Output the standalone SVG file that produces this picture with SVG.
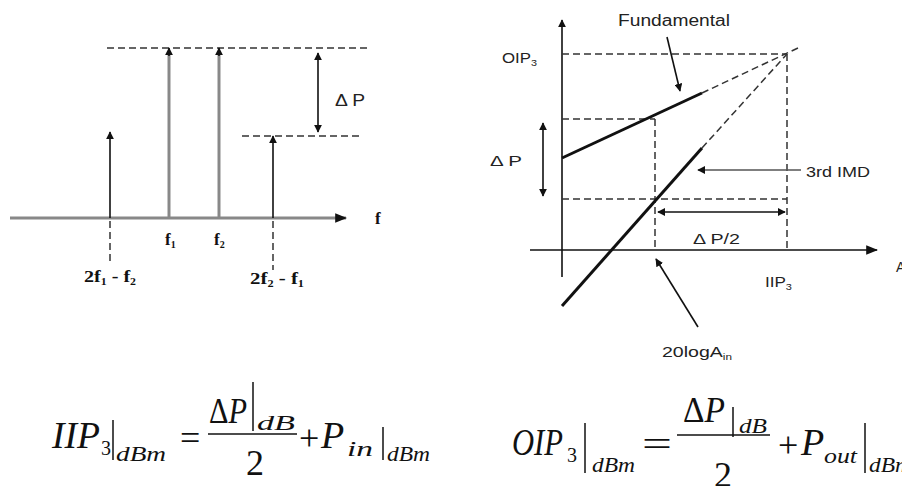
<svg xmlns="http://www.w3.org/2000/svg" width="902" height="486" viewBox="0 0 902 486">
<style>
.sans{font-family:"Liberation Sans",Arial,sans-serif;fill:#222}
.lbl{font-family:"Liberation Serif","Times New Roman",serif;font-weight:bold;font-size:17px;fill:#111}
.eq{font-family:"Liberation Serif","Times New Roman",serif;font-style:italic;fill:#111}
.eqn{font-family:"Liberation Serif","Times New Roman",serif;fill:#111}
.dash{stroke:#333;stroke-width:1.5;stroke-dasharray:7,4;fill:none}
.thin{stroke:#111;stroke-width:1.6;fill:none}
.thick{stroke:#111;stroke-width:3;fill:none}
.gray{stroke:#888;stroke-width:3;fill:none}
.bar{stroke:#111;stroke-width:1.5}
</style>
<defs>
<marker id="ah" viewBox="0 0 10 10" refX="9" refY="5" markerWidth="8" markerHeight="8" markerUnits="userSpaceOnUse" orient="auto-start-reverse">
<path d="M0,0 L10,5 L0,10 z" fill="#111"/>
</marker>
<marker id="ahb" viewBox="0 0 10 10" refX="9" refY="5" markerWidth="12" markerHeight="12" markerUnits="userSpaceOnUse" orient="auto-start-reverse">
<path d="M0,1 L10,5 L0,9 z" fill="#111"/>
</marker>
</defs>

<!-- LEFT SPECTRUM -->
<g id="spectrum-axis">
<line x1="10" y1="218" x2="346" y2="218" class="gray" marker-end="url(#ahb)"/>
<text x="375" y="224" class="lbl">f</text>
</g>
<g id="connectors-left">
<line x1="107" y1="48" x2="367" y2="48" class="dash"/>
<line x1="242" y1="136" x2="362" y2="136" class="dash"/>
<line x1="110" y1="221" x2="110" y2="265" class="dash"/>
<line x1="273" y1="221" x2="273" y2="270" class="dash"/>
<line x1="318" y1="53" x2="318" y2="132" class="thin" marker-start="url(#ah)" marker-end="url(#ah)"/>
</g>
<g id="tone-f1">
<line x1="169" y1="218" x2="169" y2="52" class="gray"/>
<line x1="169" y1="56" x2="169" y2="48" class="thin" marker-end="url(#ah)"/>
<text x="165" y="245" class="lbl">f<tspan font-size="10" dy="3">1</tspan></text>
</g>
<g id="tone-f2">
<line x1="219" y1="218" x2="219" y2="52" class="gray"/>
<line x1="219" y1="56" x2="219" y2="48" class="thin" marker-end="url(#ah)"/>
<text x="214" y="245" class="lbl">f<tspan font-size="10" dy="3">2</tspan></text>
</g>
<g id="imd-low">
<line x1="110" y1="218" x2="110" y2="132" class="thin" marker-end="url(#ah)"/>
<text x="84" y="282" class="lbl" font-size="18" textLength="52" lengthAdjust="spacingAndGlyphs">2f<tspan font-size="10" dy="3">1</tspan><tspan dy="-3"> - f</tspan><tspan font-size="10" dy="3">2</tspan></text>
</g>
<g id="imd-high">
<line x1="273" y1="218" x2="273" y2="136" class="thin" marker-end="url(#ah)"/>
<text x="250" y="284" class="lbl" font-size="18" textLength="54" lengthAdjust="spacingAndGlyphs">2f<tspan font-size="10" dy="3">2</tspan><tspan dy="-3"> - f</tspan><tspan font-size="10" dy="3">1</tspan></text>
</g>
<g id="label-dp-left">
<text x="335" y="106" class="sans" font-size="16" textLength="30" lengthAdjust="spacingAndGlyphs">Δ P</text>
</g>

<!-- RIGHT IP3 PLOT -->
<g id="ip3-axes">
<line x1="562" y1="277" x2="562" y2="20" class="thin" marker-end="url(#ah)"/>
<line x1="530" y1="250" x2="877" y2="250" class="thin" marker-end="url(#ahb)"/>
<text x="502" y="63" class="sans" font-size="14" textLength="35" lengthAdjust="spacingAndGlyphs">OIP<tspan font-size="9" dy="3">3</tspan></text>
<text x="765" y="287" class="sans" font-size="14" textLength="27" lengthAdjust="spacingAndGlyphs">IIP<tspan font-size="9" dy="3">3</tspan></text>
<text x="896" y="272" class="sans" font-size="14">A</text>
</g>
<g id="connectors-right">
<line x1="562" y1="54" x2="787" y2="54" class="dash"/>
<line x1="787" y1="54" x2="787" y2="250" class="dash"/>
<line x1="562" y1="119" x2="655" y2="119" class="dash"/>
<line x1="655" y1="119" x2="655" y2="250" class="dash"/>
<line x1="562" y1="199" x2="787" y2="199" class="dash"/>
<line x1="543" y1="123" x2="543" y2="196" class="thin" marker-start="url(#ah)" marker-end="url(#ah)"/>
<line x1="658" y1="212" x2="785" y2="212" class="thin" marker-start="url(#ah)" marker-end="url(#ah)"/>
<line x1="801" y1="170" x2="698" y2="170" stroke="#555" stroke-width="1.6" marker-end="url(#ah)"/>
<line x1="667" y1="37" x2="680" y2="91" class="thin" marker-end="url(#ah)"/>
<line x1="698" y1="327" x2="656" y2="259" class="thin" marker-end="url(#ah)"/>
</g>
<g id="fundamental-line">
<line x1="562" y1="158" x2="702" y2="93" class="thick"/>
<line x1="702" y1="93" x2="798" y2="48" class="dash" stroke-width="1.8"/>
<text x="618" y="26" class="sans" font-size="16" textLength="112" lengthAdjust="spacingAndGlyphs">Fundamental</text>
</g>
<g id="imd-line">
<line x1="562" y1="306" x2="702" y2="148" class="thick"/>
<line x1="702" y1="148" x2="787" y2="54" class="dash" stroke-width="1.8"/>
<text x="806" y="177" class="sans" font-size="15" textLength="64" lengthAdjust="spacingAndGlyphs">3rd IMD</text>
</g>
<g id="labels-right">
<text x="490" y="166" class="sans" font-size="15" textLength="32" lengthAdjust="spacingAndGlyphs">Δ P</text>
<text x="693" y="244" class="sans" font-size="15" textLength="47" lengthAdjust="spacingAndGlyphs">Δ P/2</text>
<text x="662" y="357" class="sans" font-size="15" textLength="70" lengthAdjust="spacingAndGlyphs">20logA<tspan font-size="9" dy="3">in</tspan></text>
</g>

<!-- FORMULAS -->
<g id="formula-iip3">
<text x="52" y="448" class="eq" font-size="38" textLength="48" lengthAdjust="spacingAndGlyphs">IIP</text>
<text x="101" y="455" class="eqn" font-size="20">3</text>
<line x1="113" y1="420" x2="113" y2="460" class="bar"/>
<text x="116" y="461" class="eq" font-size="22" textLength="50" lengthAdjust="spacingAndGlyphs">dBm</text>
<text x="180" y="450" class="eqn" font-size="36">=</text>
<text x="209" y="423" class="eqn" font-size="36" textLength="38" lengthAdjust="spacingAndGlyphs">Δ<tspan class="eq">P</tspan></text>
<line x1="253" y1="382" x2="253" y2="431" class="bar"/>
<text x="257" y="430" class="eq" font-size="22" textLength="38" lengthAdjust="spacingAndGlyphs">dB</text>
<line x1="208" y1="434" x2="297" y2="434" class="bar"/>
<text x="255" y="475" class="eqn" font-size="36" text-anchor="middle">2</text>
<text x="299" y="450" class="eqn" font-size="36">+</text>
<text x="321" y="448" class="eq" font-size="38">P</text>
<text x="347" y="456" class="eq" font-size="22" textLength="26" lengthAdjust="spacingAndGlyphs">in</text>
<line x1="383" y1="427" x2="383" y2="460" class="bar"/>
<text x="387" y="461" class="eq" font-size="22" textLength="43" lengthAdjust="spacingAndGlyphs">dBm</text>
</g>
<g id="formula-oip3">
<text x="512" y="455" class="eq" font-size="38" textLength="51" lengthAdjust="spacingAndGlyphs">OIP</text>
<text x="567" y="462" class="eqn" font-size="20">3</text>
<line x1="585" y1="423" x2="585" y2="473" class="bar"/>
<text x="592" y="472" class="eq" font-size="22" textLength="43" lengthAdjust="spacingAndGlyphs">dBm</text>
<text x="642" y="456" class="eqn" font-size="36" textLength="30" lengthAdjust="spacingAndGlyphs">=</text>
<text x="683" y="422" class="eqn" font-size="36" textLength="42" lengthAdjust="spacingAndGlyphs">Δ<tspan class="eq">P</tspan></text>
<line x1="733" y1="407" x2="733" y2="437" class="bar"/>
<text x="739" y="433" class="eq" font-size="20" textLength="28" lengthAdjust="spacingAndGlyphs">dB</text>
<line x1="677" y1="435" x2="770" y2="435" class="bar"/>
<text x="723" y="487" class="eqn" font-size="36" text-anchor="middle">2</text>
<text x="778" y="457" class="eqn" font-size="36">+</text>
<text x="801" y="455" class="eq" font-size="38">P</text>
<text x="824" y="463" class="eq" font-size="22" textLength="33" lengthAdjust="spacingAndGlyphs">out</text>
<line x1="865" y1="423" x2="865" y2="473" class="bar"/>
<text x="869" y="472" class="eq" font-size="22" textLength="43" lengthAdjust="spacingAndGlyphs">dBm</text>
</g>
</svg>
